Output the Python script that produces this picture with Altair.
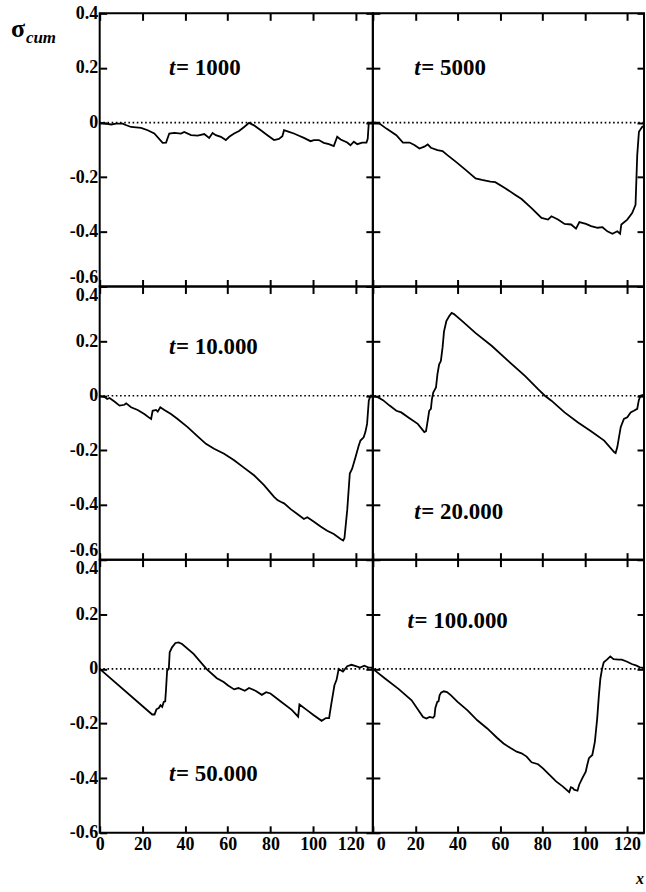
import altair as alt
import pandas as pd

# ---------------- data ----------------
x1000 = [0, 5.4, 7.7, 10.8, 11.6, 14.7, 19.4, 22.5, 25.6, 29.5, 31.1, 32.6, 35.0, 38.1, 39.6,
         42.8, 45.9, 49.0, 51.3, 52.9, 54.4, 56.8, 59.1, 60.7, 63.0, 65.3, 67.7, 70.0, 72.3,
         75.5, 78.6, 81.7, 84.0, 85.6, 86.4, 88.7, 91.0, 93.4, 95.7, 98.8, 100.4, 102.7, 105.0,
         107.4, 109.7, 111.3, 112.9, 116.0, 117.5, 119.1, 120.7, 123.0, 125.0, 125.6, 126.1, 128]
y1000 = [0, -0.007, -0.004, -0.004, -0.007, -0.016, -0.019, -0.028, -0.040, -0.074, -0.073,
         -0.040, -0.038, -0.040, -0.034, -0.046, -0.048, -0.042, -0.056, -0.038, -0.046, -0.052,
         -0.064, -0.052, -0.040, -0.031, -0.016, -0.001, -0.010, -0.028, -0.046, -0.064, -0.060,
         -0.050, -0.028, -0.034, -0.040, -0.048, -0.056, -0.068, -0.064, -0.064, -0.074, -0.079,
         -0.086, -0.052, -0.062, -0.073, -0.083, -0.070, -0.079, -0.073, -0.073, -0.059, 0, 0]

x5000 = [0, 2.5, 6.4, 11.1, 14.2, 17.3, 19.6, 22.0, 24.3, 25.9, 27.4, 30.5, 32.9, 35.2, 39.1,
         43.8, 48.5, 51.5, 55.5, 57.8, 62.5, 67.1, 70.2, 74.9, 79.6, 82.7, 84.3, 87.4, 90.5,
         93.6, 95.9, 97.5, 100.6, 103.0, 106.1, 108.4, 110.7, 113.1, 115.4, 116.7, 117.3, 120.1,
         122.4, 124.0, 124.8, 125.6, 127.1, 128]
y5000 = [0, 0, -0.022, -0.046, -0.073, -0.073, -0.082, -0.095, -0.088, -0.080, -0.092, -0.101,
         -0.104, -0.119, -0.143, -0.173, -0.204, -0.210, -0.216, -0.218, -0.240, -0.264, -0.280,
         -0.313, -0.349, -0.355, -0.343, -0.355, -0.371, -0.373, -0.388, -0.364, -0.371, -0.379,
         -0.385, -0.383, -0.398, -0.407, -0.398, -0.407, -0.373, -0.355, -0.331, -0.301, -0.119,
         -0.034, -0.016, -0.012]

x10000 = [0, 2.2, 3.5, 4.6, 6.9, 9.3, 11.6, 12.4, 14.7, 17.8, 20.9, 23.3, 24.1, 24.8, 26.4,
          27.2, 28.4, 30.3, 33.4, 36.5, 41.2, 45.9, 49.8, 53.6, 58.3, 63.0, 67.7, 72.3, 77.0,
          81.7, 83.3, 84.8, 86.4, 89.5, 92.6, 95.7, 97.3, 100.4, 103.5, 106.6, 109.7, 112.9,
          114.1, 114.7, 116.0, 117.2, 118.3, 119.9, 121.4, 122.2, 123.7, 124.5, 125.3, 126.1,
          126.9, 128]
y10000 = [0, -0.004, -0.012, -0.008, -0.021, -0.036, -0.033, -0.028, -0.042, -0.052, -0.067,
          -0.081, -0.085, -0.055, -0.052, -0.058, -0.042, -0.052, -0.067, -0.085, -0.115, -0.149,
          -0.176, -0.194, -0.212, -0.236, -0.264, -0.291, -0.327, -0.370, -0.382, -0.388, -0.394,
          -0.415, -0.433, -0.451, -0.445, -0.461, -0.479, -0.494, -0.506, -0.524, -0.530, -0.521,
          -0.418, -0.285, -0.267, -0.224, -0.182, -0.164, -0.152, -0.133, -0.103, -0.018, 0, 0]

x20000 = [0, 2.5, 4.8, 7.9, 11.1, 13.4, 17.3, 21.2, 24.3, 25.1, 25.9, 26.6, 27.4, 27.9, 28.5,
          29.8, 30.5, 31.3, 32.1, 32.9, 33.6, 34.7, 36.0, 37.2, 38.3, 42.2, 48.4, 56.2, 64.0,
          71.8, 78.0, 81.2, 84.3, 90.5, 96.7, 103.0, 109.2, 113.9, 114.6, 115.4, 117.0, 118.5,
          120.1, 121.7, 123.2, 124.8, 125.5, 126.3, 128]
y20000 = [0, -0.006, -0.016, -0.036, -0.055, -0.061, -0.082, -0.103, -0.133, -0.130, -0.091,
          -0.055, -0.048, -0.012, 0.012, 0.030, 0.079, 0.115, 0.127, 0.176, 0.236, 0.273, 0.291,
          0.303, 0.299, 0.273, 0.230, 0.182, 0.127, 0.073, 0.024, 0, -0.018, -0.061, -0.097,
          -0.130, -0.164, -0.206, -0.210, -0.188, -0.115, -0.085, -0.079, -0.061, -0.055, -0.048,
          -0.018, 0, 0.004]

x50000 = [0, 24.6, 25.7, 26.6, 27.7, 28.5, 29.3, 30.0, 30.7, 31.1, 31.6, 32.4, 32.8, 33.9, 35.5,
          37.0, 38.6, 44.0, 50.0, 54.9, 58.1, 60, 63, 65, 68, 70, 73, 76, 78, 80, 85, 90, 93,
          93.6, 97, 100, 104, 106, 107.5, 108.5, 110, 111, 112, 114, 116, 118, 120, 122, 124,
          126, 128]
y50000 = [0, -0.167, -0.167, -0.148, -0.143, -0.133, -0.139, -0.121, -0.119, -0.073, -0.006, 0,
          0.061, 0.079, 0.095, 0.097, 0.091, 0.055, 0, -0.034, -0.048, -0.06, -0.075, -0.07,
          -0.08, -0.07, -0.08, -0.095, -0.085, -0.09, -0.12, -0.15, -0.175, -0.13, -0.15, -0.168,
          -0.19, -0.18, -0.18, -0.13, -0.06, -0.04, 0, -0.01, 0.01, 0.015, 0.01, 0.005, 0.012,
          0.005, 0.005]

x100000 = [0, 5.9, 12.1, 18.3, 23.7, 25.3, 26.8, 28.4, 29.1, 29.5, 30.4, 31.0, 31.5, 32.2, 33.5,
           35.0, 36.9, 40.0, 44.7, 49.3, 54.0, 58.6, 61.7, 64.8, 67.9, 70.2, 72.6, 74.9, 78.0,
           80.3, 83.4, 86.5, 89.6, 92.7, 93.5, 94.3, 95.0, 96.6, 97.4, 98.9, 100.5, 101.2, 102.0,
           103.6, 104.8, 105.9, 106.7, 107.4, 108.2, 109.0, 110.5, 112.1, 113.6, 116.0, 117.5,
           119.8, 122.2, 124.5, 126.0, 128]
y100000 = [0, -0.036, -0.073, -0.115, -0.176, -0.182, -0.176, -0.179, -0.173, -0.143, -0.121,
           -0.119, -0.097, -0.087, -0.082, -0.085, -0.097, -0.121, -0.152, -0.188, -0.218, -0.252,
           -0.273, -0.289, -0.303, -0.309, -0.321, -0.342, -0.349, -0.364, -0.388, -0.412, -0.430,
           -0.451, -0.433, -0.436, -0.442, -0.446, -0.424, -0.400, -0.376, -0.352, -0.327, -0.315,
           -0.267, -0.182, -0.097, -0.036, 0, 0.024, 0.034, 0.046, 0.036, 0.034, 0.034, 0.027,
           0.018, 0.012, 0.006, 0.004]

series_x = [x1000, x5000, x10000, x20000, x50000, x100000]
series_y = [y1000, y5000, y10000, y20000, y50000, y100000]
label_rest = ["= 1000", "= 5000", "= 10.000", "= 20.000", "= 50.000", "= 100.000"]
label_x = [32.5, 19.6, 32.5, 19.6, 32.5, 16.4]
label_y = [0.2, 0.2, 0.18, -0.425, -0.385, 0.175]

x_ticks = [0, 20, 40, 60, 80, 100, 120]
y_ticks = [-0.6, -0.4, -0.2, 0, 0.2, 0.4]

# ---------------- style ----------------
WIDTHS = [274, 272]
H = 274
FONT = "Liberation Serif"
xscale = alt.Scale(domain=[0, 128], nice=False, zero=False)
yscale = alt.Scale(domain=[-0.6, 0.4], nice=False, zero=False)
YLABEL = "datum.value == 0 ? '0' : (datum.value < 0 ? '-' : '') + format(abs(datum.value), '.1f')"


def tick_axis(orient, off, vals):
    return alt.Axis(orient=orient, offset=off, values=vals, labels=False, domain=False,
                    ticks=True, tickSize=7, tickWidth=2, tickColor="black", title=None,
                    grid=False, zindex=2)


def panel(i, row, col):
    W = WIDTHS[col]
    df = pd.DataFrame({"x": series_x[i], "y": series_y[i]})
    base = alt.Chart(df)
    if row == 2:
        if col == 0:
            loff = {"condition": {"test": "datum.value == 120", "value": -5}, "value": 0}
        else:
            loff = {"condition": {"test": "datum.value == 0", "value": 8}, "value": 0}
        xa = alt.Axis(orient="bottom", values=x_ticks, ticks=False, domain=False, grid=False,
                      title=None, labelFont=FONT, labelFontSize=18, labelFontWeight="bold",
                      labelColor="black", labelPadding=3, labelFlush=False, format="d",
                      labelOffset=loff)
    else:
        xa = None
    if col == 0:
        common = dict(orient="left", values=y_ticks, ticks=False, domain=False, grid=False,
                      title=None, labelFont=FONT, labelFontSize=18, labelFontWeight="bold",
                      labelColor="black", labelPadding=2, labelExpr=YLABEL)
        if row == 0:
            ya = alt.Axis(labelFlush=False,
                          labelBaseline={"condition": {"test": "datum.value < -0.5",
                                                       "value": "bottom"},
                                         "value": "middle"}, **common)
        elif row == 1:
            ya = alt.Axis(labelFlush=True, **common)
        else:
            ya = alt.Axis(labelFlush=False,
                          labelBaseline={"condition": {"test": "datum.value > 0.3",
                                                       "value": "top"},
                                         "value": "middle"}, **common)
    else:
        ya = None

    line = base.mark_line(color="black", strokeWidth=1.8, clip=True).encode(
        x=alt.X("x:Q", scale=xscale, axis=xa),
        y=alt.Y("y:Q", scale=yscale, axis=ya))
    zero = alt.Chart(pd.DataFrame({"z": [0]})).mark_rule(
        color="black", strokeWidth=1.6, strokeDash=[1.6, 2.6]).encode(
        y=alt.Y("z:Q", scale=yscale, axis=None))

    lab = pd.DataFrame({"x": [label_x[i]], "y": [label_y[i]], "t": ["t"],
                        "rest": [label_rest[i]]})
    t_it = alt.Chart(lab).mark_text(align="left", baseline="middle", font=FONT, fontSize=23,
                                    fontStyle="italic", fontWeight="bold", color="black").encode(
        x=alt.X("x:Q", scale=xscale, axis=None), y=alt.Y("y:Q", scale=yscale, axis=None),
        text="t:N")
    t_rest = alt.Chart(lab).mark_text(align="left", baseline="middle", font=FONT, fontSize=23,
                                      fontWeight="bold", dx=7, color="black").encode(
        x=alt.X("x:Q", scale=xscale, axis=None), y=alt.Y("y:Q", scale=yscale, axis=None),
        text="rest:N")
    # invisible copies of the curve that only carry the inward tick axes
    ghost1 = base.mark_line(opacity=0, clip=True).encode(
        x=alt.X("x:Q", scale=xscale, axis=tick_axis("top", -H, x_ticks)),
        y=alt.Y("y:Q", scale=yscale, axis=tick_axis("right", -W, y_ticks)))
    ghost2 = base.mark_line(opacity=0, clip=True).encode(
        x=alt.X("x:Q", scale=xscale, axis=tick_axis("bottom", -H, x_ticks)),
        y=alt.Y("y:Q", scale=yscale, axis=tick_axis("left", -W, y_ticks)))

    layers = [line, zero, t_it, t_rest, ghost1, ghost2]

    if row == 0 and col == 0:
        sig = pd.DataFrame({"s": ["σ"], "c": ["cum"]})
        layers.append(alt.Chart(sig).mark_text(align="left", baseline="alphabetic", font=FONT,
                                               fontSize=26, fontWeight="bold", color="black").encode(
            x=alt.value(-89), y=alt.value(24), text="s:N"))
        layers.append(alt.Chart(sig).mark_text(align="left", baseline="alphabetic", font=FONT,
                                               fontSize=17, fontWeight="bold", fontStyle="italic",
                                               color="black").encode(
            x=alt.value(-74), y=alt.value(30), text="c:N"))
    if row == 2 and col == 1:
        xl = pd.DataFrame({"s": ["x"]})
        layers.append(alt.Chart(xl).mark_text(align="left", baseline="alphabetic", font=FONT,
                                              fontSize=16, fontWeight="bold", fontStyle="italic",
                                              color="black").encode(
            x=alt.value(264), y=alt.value(325), text="s:N"))

    return alt.layer(*layers).resolve_axis(x="independent", y="independent").properties(
        width=W, height=H)


panels = []
for i in range(6):
    panels.append(panel(i, i // 2, i % 2))

chart = alt.concat(*panels, columns=2, spacing=0, bounds="flush").properties(
    padding={"left": 10, "top": 2, "right": 0, "bottom": 0},
    background="white"
).configure_view(stroke="black", strokeWidth=2)

chart.save("out.html", embed_options={"renderer": "svg", "actions": False})
